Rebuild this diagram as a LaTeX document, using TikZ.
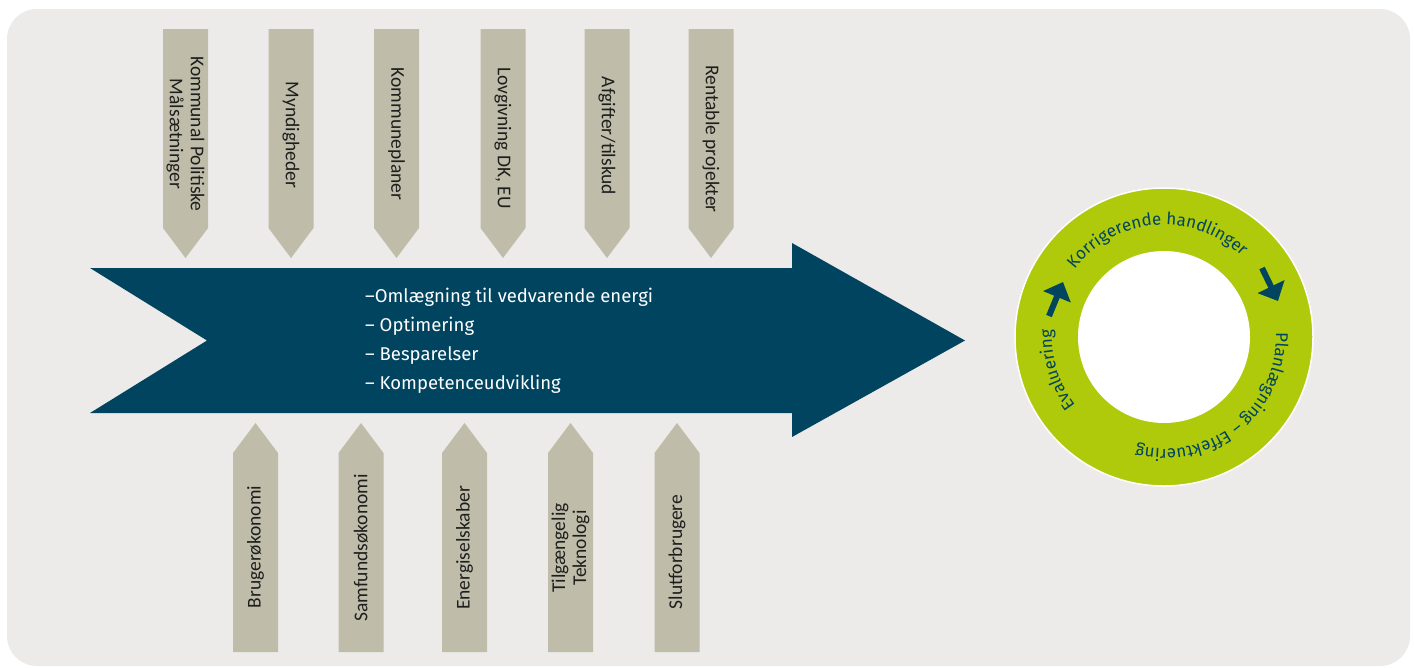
\documentclass[tikz,border=0pt]{standalone}
\usepackage{fontspec}
\setmainfont{Carlito}
\newfontfamily\dinfont{Fira Sans}
\usetikzlibrary{decorations.text,arrows.meta}
\definecolor{panel}{HTML}{ECEBE9}
\definecolor{tanbox}{HTML}{BFBCA9}
\definecolor{navy}{HTML}{00445F}
\definecolor{lime}{HTML}{AFCA0B}
\definecolor{tantext}{HTML}{1E1E1E}
\newcommand\ringfont{\dinfont\fontsize{17}{20}\selectfont}
\tikzset{
  tanlabel/.style={font=\fontsize{19.5}{21}\selectfont, text=tantext, align=center, inner sep=0pt, anchor=center},
  mainline/.style={font=\dinfont\fontsize{18.5}{22}\selectfont, text=white, anchor=base west, inner sep=0pt},
  ringlabel/.style={decorate, decoration={text along path, text align=center, text color=navy, text={|\ringfont|#1}}},
  cyclearrow/.style={navy, line width=6pt, -{Triangle[width=29pt,length=16pt]}}
}
\begin{document}
\begin{tikzpicture}[x=1pt,y=-1pt]
\useasboundingbox (0,0) rectangle (1414,667);
\fill[white] (0,0) rectangle (1414,667);
\fill[panel, rounded corners=30pt] (7,9) rectangle (1410,666);

% main arrow
\fill[navy] (90,268) -- (792,268) -- (792,243) -- (965,340.5) -- (792,437) -- (792,413) -- (90,413) -- (207,340.5) -- cycle;

% top pointers
\foreach \x in {185.5,291,396.5,503,607,711}{
  \fill[tanbox] (\x-22.5,29) -- (\x+22.5,29) -- (\x+22.5,228) -- (\x,258) -- (\x-22.5,228) -- cycle;
}
% bottom pointers
\foreach \x in {255.5,361,464.5,570.5,677}{
  \fill[tanbox] (\x-22.5,652) -- (\x+22.5,652) -- (\x+22.5,453) -- (\x,423) -- (\x-22.5,453) -- cycle;
}

\node[tanlabel, rotate=-90] (t1) at (185.5,134) {Kommunal Politiske\\Målsætninger};
\node[tanlabel, rotate=-90] (t2) at (291,135) {Myndigheder};
\node[tanlabel, rotate=-90] (t3) at (396.5,134) {Kommuneplaner};
\node[tanlabel, rotate=-90] (t4) at (503,138) {Lovgivning DK, EU};
\node[tanlabel, rotate=-90] (t5) at (607,136) {Afgifter/tilskud};
\node[tanlabel, rotate=-90] (t6) at (711,139) {Rentable projekter};

\node[tanlabel, rotate=90] (b1) at (255.5,547) {Brugerøkonomi};
\node[tanlabel, rotate=90] (b2) at (361,548) {Samfundsøkonomi};
\node[tanlabel, rotate=90] (b3) at (464.5,548) {Energiselskaber};
\node[tanlabel, rotate=90] (b4) at (570.5,548) {Tilgængelig\\Teknologi};
\node[tanlabel, rotate=90] (b5) at (677,552) {Slutforbrugere};

% center text
\node[mainline] (c1) at (365,302) {–Omlægning til vedvarende energi};
\node[mainline] (c2) at (365,331) {– Optimering};
\node[mainline] (c3) at (365,360) {– Besparelser};
\node[mainline] (c4) at (365,389) {– Kompetenceudvikling};

% ring
\node[circle, fill=lime, draw=white, line width=1.5pt, minimum size=298pt, inner sep=0pt] (ring) at (1164,337) {};
\node[circle, fill=white, minimum size=172pt, inner sep=0pt] (hole) at (ring) {};
\begin{scope}[shift={(ring.center)}]
  \path[ringlabel={Korrigerende handlinger}] (184.5:112pt) arc[start angle=184.5, end angle=4.5, radius=112pt];
  \path[ringlabel={Planlægning – Effektuering}] (39:112pt) arc[start angle=39, end angle=-141, radius=112pt];
  \path[ringlabel={Evaluering}] (287:112pt) arc[start angle=287, end angle=107, radius=112pt];
\end{scope}

\coordinate (ra1) at (1262,268);
\coordinate (ra2) at (1278,301);
\coordinate (la1) at (1049,316);
\coordinate (la2) at (1063,282);
\draw[cyclearrow] (ra1) -- (ra2);
\draw[cyclearrow] (la1) -- (la2);
\end{tikzpicture}
\end{document}
